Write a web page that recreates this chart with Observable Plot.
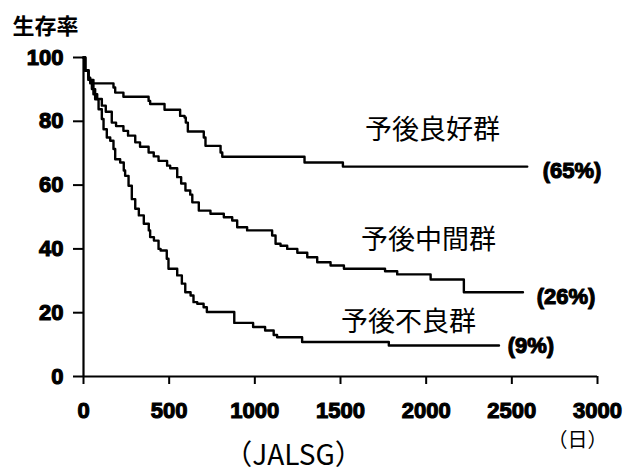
<!DOCTYPE html>
<html>
<head>
<meta charset="utf-8">
<script src="https://cdn.jsdelivr.net/npm/d3@7"></script>
<script src="https://cdn.jsdelivr.net/npm/@observablehq/plot@0.6"></script>
<style>
  html, body { margin: 0; padding: 0; background: #fff; }
  #chart { width: 641px; height: 474px; }
  #chart g[aria-label$="tick label"] { stroke: #000; stroke-width: 1.1px; }
</style>
</head>
<body>
<div id="chart"></div>
<script>
// ---- data ----
const xTicks = [0, 500, 1000, 1500, 2000, 2500, 3000];
const yTicks = [0, 20, 40, 60, 80, 100];

const goodDays = [0, 10, 29, 39, 175, 185, 233, 380, 389, 473, 564, 590, 597, 609, 702, 712, 800, 810, 1290, 1514, 2590];
const goodSurv = [100, 95.8, 93.7, 91.9, 90.6, 89.0, 87.7, 86.4, 85.4, 83.6, 81.7, 81.2, 79.6, 76.8, 74.9, 72.3, 70.2, 68.9, 67.1, 65.8, 65.8];

const midDays = [0, 10, 29, 58, 80, 107, 130, 165, 190, 233, 260, 302, 330, 380, 410, 438, 488, 506, 547, 570, 595, 623, 635, 673, 741, 819, 868, 897, 955, 1101, 1121, 1150, 1189, 1248, 1306, 1364, 1442, 1520, 1760, 1831, 2026, 2220, 2565];
const midSurv = [100, 96, 93, 88.5, 87, 84.9, 83, 79.6, 78.5, 77.0, 75.5, 73.4, 72, 70.2, 69, 67.6, 66.1, 65.3, 62.5, 60.5, 58.3, 57, 54.6, 52.0, 51.0, 49.9, 48.9, 46.8, 45.8, 44.2, 41.6, 41.0, 40.0, 38.8, 37.4, 35.8, 34.8, 33.8, 33.0, 32.0, 30.4, 26.4, 26.4];

const poorDays = [0, 10, 29, 49, 68, 88, 107, 117, 136, 156, 175, 185, 214, 235, 243, 263, 282, 302, 323, 352, 381, 389, 411, 438, 450, 486, 496, 547, 574, 594, 625, 642, 664, 701, 720, 880, 990, 1060, 1110, 1130, 1276, 1782, 2425];
const poorSurv = [100, 96, 93, 90.1, 86.9, 83.8, 80.7, 77.5, 74.9, 73.9, 71.3, 68.1, 67.1, 64.6, 62.9, 59.8, 55.6, 52.6, 50.5, 47.9, 45.8, 43.7, 42.6, 40.0, 39.5, 36.9, 33.8, 31.7, 29.1, 26.4, 25.4, 23.3, 22.8, 21.7, 20.2, 16.8, 15.5, 14.4, 13.0, 12.3, 10.8, 9.7, 9.7];

const groupNames = ["予後良好群", "予後中間群", "予後不良群"];
const groupLabelDay = [2037, 2014, 1897];
const groupLabelSurv = [77.1, 42.6, 16.9];

const pctLabels = ["(65%)", "(26%)", "(9%)"];
const pctDay = [2680, 2645, 2476];
const pctSurv = [64.3, 24.8, 9.7];

const yTitle = "生存率";
const xUnit = "（日）";
const source = "（JALSG）";

// ---- build rows ----
const series = [
  [groupNames[0], goodDays, goodSurv],
  [groupNames[1], midDays, midSurv],
  [groupNames[2], poorDays, poorSurv]
];
const rows = series.flatMap(([g, ds, ss]) => ds.map((d, i) => ({group: g, day: d, surv: ss[i]})));

const cjk = "'Noto Sans CJK JP', 'Noto Sans', sans-serif";
const latin = "'Liberation Sans', Arial, Helvetica, sans-serif";

const chart = Plot.plot({
  width: 641,
  height: 474,
  marginLeft: 83,
  marginRight: 44,
  marginTop: 57,
  marginBottom: 98,
  style: {fontFamily: latin, fontSize: "22px", fontWeight: "bold", background: "#fff", color: "#000", overflow: "visible"},
  x: {domain: [0, 3000]},
  y: {domain: [0, 100]},
  marks: [
    Plot.axisX({ticks: xTicks, tickSize: 8, tickPadding: 18, tickFormat: d => `${d}`, strokeWidth: 2, label: null}),
    Plot.axisY({ticks: yTicks, tickSize: 10, tickPadding: 10, tickFormat: d => `${d}`, strokeWidth: 2, label: null}),
    Plot.ruleY([0], {stroke: "#000", strokeWidth: 2.2}),
    Plot.ruleX([0], {stroke: "#000", strokeWidth: 2.2}),
    Plot.line(rows, {x: "day", y: "surv", z: "group", curve: "step-after", stroke: "#000", strokeWidth: 2.4}),
    Plot.text(groupNames, {x: groupLabelDay, y: groupLabelSurv, text: groupNames, fontFamily: cjk, fontSize: 27, fontWeight: "normal", textAnchor: "middle", lineAnchor: "middle", fill: "#000"}),
    Plot.text(pctLabels, {x: pctDay, y: pctSurv, text: pctLabels, fontFamily: latin, fontSize: 22, fontWeight: "bold", textAnchor: "start", lineAnchor: "middle", fill: "#000", stroke: "#000", strokeWidth: 1.1}),
    Plot.text([yTitle], {frameAnchor: "top-left", dx: -71, dy: -31, textAnchor: "start", lineAnchor: "middle", fontFamily: cjk, fontSize: 22, fontWeight: "bold", fill: "#000"}),
    Plot.text([xUnit], {frameAnchor: "bottom-right", dx: -20, dy: 64, textAnchor: "middle", lineAnchor: "middle", fontFamily: cjk, fontSize: 20, fontWeight: "normal", fill: "#000"}),
    Plot.text([source], {frameAnchor: "bottom-left", dx: 210, dy: 80, textAnchor: "middle", lineAnchor: "middle", fontFamily: cjk, fontSize: 28, fontWeight: "normal", fill: "#000"})
  ]
});
document.getElementById("chart").appendChild(chart);
</script>
</body>
</html>
